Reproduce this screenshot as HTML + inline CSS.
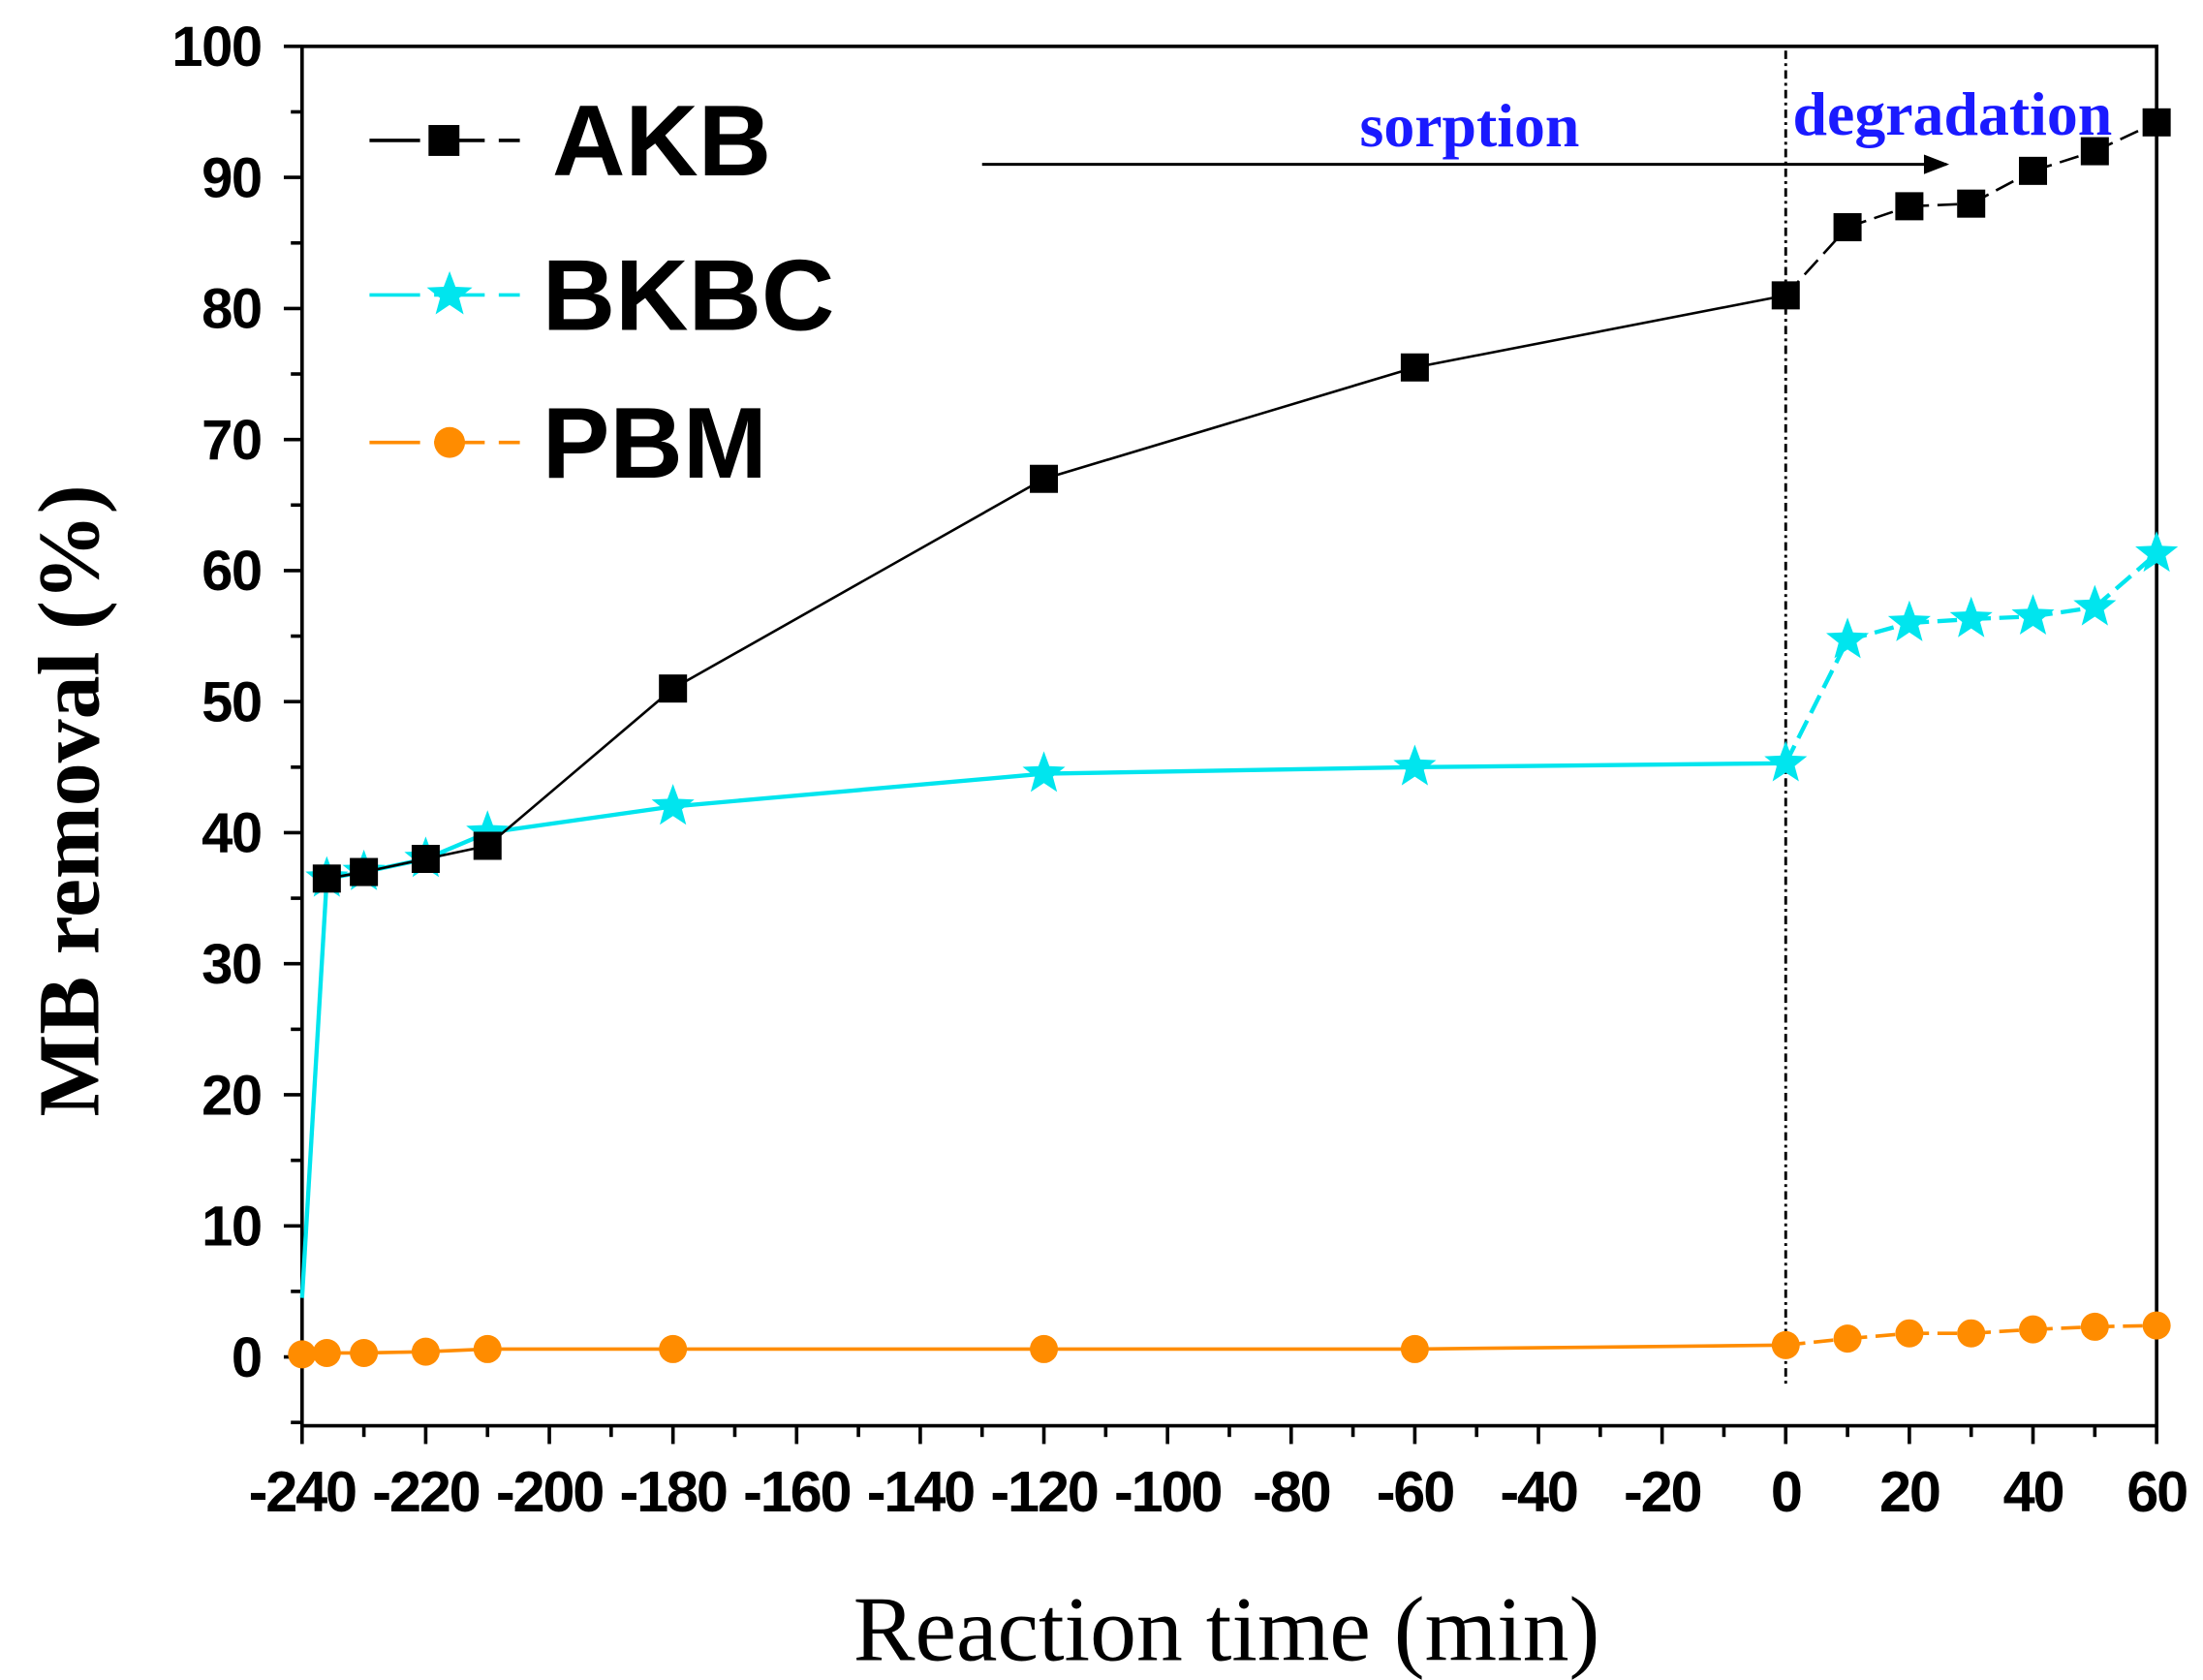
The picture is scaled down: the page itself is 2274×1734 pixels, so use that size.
<!DOCTYPE html>
<html><head><meta charset="utf-8"><style>html,body{margin:0;padding:0;background:#fff}svg{display:block}</style></head>
<body>
<svg id="chart" width="2274" height="1734" viewBox="0 0 1568 1196" preserveAspectRatio="none" xmlns="http://www.w3.org/2000/svg"></svg>
<script>
const xTicks=[-240,-220,-200,-180,-160,-140,-120,-100,-80,-60,-40,-20,0,20,40,60];
const yTicks=[0,10,20,30,40,50,60,70,80,90,100];
const akbX=[-236,-230,-220,-210,-180,-120,-60,0,10,20,30,40,50,60];
const akbY=[36.5,37,38,39,51,67,75.5,81,86.2,87.8,88,90.5,92,94.2];
const bkbcX=[-240,-236,-230,-220,-210,-180,-120,-60,0,10,20,30,40,50,60];
const bkbcY=[4.5,36.5,37,38,40,42,44.5,45,45.3,54.7,56,56.3,56.5,57.2,61.3];
const pbmX=[-240,-236,-230,-220,-210,-180,-120,-60,0,10,20,30,40,50,60];
const pbmY=[0.2,0.3,0.3,0.4,0.6,0.6,0.6,0.6,0.9,1.4,1.8,1.8,2.1,2.3,2.4];

const svg=document.getElementById('chart');
const NS='http://www.w3.org/2000/svg';
const L=215,R=1535,T=33,B=1015;
const sx=v=>L+(v+240)*(R-L)/300;
const sy=v=>966-v*9.33;
function mk(tag,attrs,parent){const e=document.createElementNS(NS,tag);for(const k in attrs)e.setAttribute(k,attrs[k]);(parent||svg).appendChild(e);return e;}

let fr=mk('rect',{x:L,y:T,width:R-L,height:B-T,fill:'none',stroke:'#000','stroke-width':2.5});


for(let v=-240;v<=60;v+=10){const major=(v%20===0);
 let t=mk('line',{x1:sx(v),x2:sx(v),y1:B,y2:B+(major?13:8),stroke:'#000','stroke-width':2.5});
 
 }
xTicks.forEach(v=>{let t=mk('text',{x:sx(v),y:1076,'text-anchor':'middle','font-family':'Liberation Sans, sans-serif','font-weight':'bold','font-size':41,'letter-spacing':'-1.5'});t.textContent=v;
 
 });
for(let v=-5;v<=100;v+=5){const major=(v%10===0);
 let t=mk('line',{x1:L,x2:L-(major?13:8),y1:sy(v),y2:sy(v),stroke:'#000','stroke-width':2.5});
 
 }
yTicks.forEach(v=>{let t=mk('text',{x:186,y:sy(v)+14,'text-anchor':'end','font-family':'Liberation Sans, sans-serif','font-weight':'bold','font-size':40,'letter-spacing':'-1'});t.textContent=v;
 
 });
let xt=mk('text',{x:873,y:1182,'text-anchor':'middle','font-family':'Liberation Serif, serif','font-size':66});xt.textContent='Reaction time (min)';


let yt=mk('text',{x:0,y:0,'text-anchor':'middle','font-family':'Liberation Serif, serif','font-weight':'bold','font-size':62,transform:'translate(70,570) rotate(-90)'});yt.textContent='MB removal (%)';


let dv=mk('line',{x1:sx(0),x2:sx(0),y1:36,y2:988,stroke:'#000','stroke-width':2,'stroke-dasharray':'6 3 2 3'});


let ar=mk('line',{x1:sx(-130),x2:sx(26),y1:117,y2:117,stroke:'#000','stroke-width':2});


let ah=mk('polygon',{points:`${sx(26)-16},110 ${sx(26)+2},117 ${sx(26)-16},124`,fill:'#000'});


let s1=mk('text',{x:1046,y:104,'text-anchor':'middle','font-family':'Liberation Serif, serif','font-weight':'bold','font-size':44,fill:'#1a1aff'});s1.textContent='sorption';


let s2=mk('text',{x:1276,y:96,'font-family':'Liberation Serif, serif','font-weight':'bold','font-size':44,fill:'#1a1aff'});s2.textContent='degradation';



function star(cx,cy,r,color,g){let p=[];for(let i=0;i<10;i++){const a=-Math.PI/2+i*Math.PI/5;const rr=i%2?r*0.42:r;p.push((cx+rr*Math.cos(a)).toFixed(1)+','+(cy+rr*Math.sin(a)).toFixed(1));}
 return mk('polygon',{points:p.join(' '),fill:color},g);}
function series(xs,ys,color,w,marker,name){
 const g=mk('g',{});
 
 
 for(let i=0;i<xs.length-1;i++){
  const dashed=xs[i]>=0;
  mk('line',{x1:sx(xs[i]),y1:sy(ys[i]),x2:sx(xs[i+1]),y2:sy(ys[i+1]),stroke:color,'stroke-width':w,'stroke-dasharray':dashed?'14 6':'none'},g);
 }
 xs.forEach((x,i)=>{let m;const cx=sx(x),cy=sy(ys[i]);
  if(marker==='sq')m=mk('rect',{x:cx-10,y:cy-10,width:20,height:20,fill:'#000'},g);
  else if(marker==='star')m=star(cx,cy,16,color,g);
  else m=mk('circle',{cx:cx,cy:cy,r:10,fill:color},g);
  if(marker==='star'&&x===-240)m.setAttribute('opacity','0');
  
  });
}
series(pbmX,pbmY,'#ff8c00',2.5,'circ','pbm');
series(bkbcX,bkbcY,'#00e5ee',3,'star','bkbc');
series(akbX,akbY,'#000',1.8,'sq','akb');

function legend(y,label,color,marker,name){
 const g=mk('g',{});
 
 
 mk('line',{x1:263,x2:370,y1:y,y2:y,stroke:color,'stroke-width':2.5,'stroke-dasharray':'36 10'},g);
 if(marker==='sq')mk('rect',{x:305,y:y-11,width:22,height:22,fill:'#000'},g);
 else if(marker==='star')star(320,y,17,color,g);
 else mk('circle',{cx:320,cy:y,r:11,fill:color},g);
 const t=mk('text',{x:marker==='sq'?393:386,y:y+25,'font-family':'Liberation Sans, sans-serif','font-weight':'bold','font-size':72},g);t.textContent=label;
}
legend(100,'AKB','#000','sq','akb');
legend(210,'BKBC','#00e5ee','star','bkbc');
legend(315,'PBM','#ff8c00','circ','pbm');
</script>
</body></html>
